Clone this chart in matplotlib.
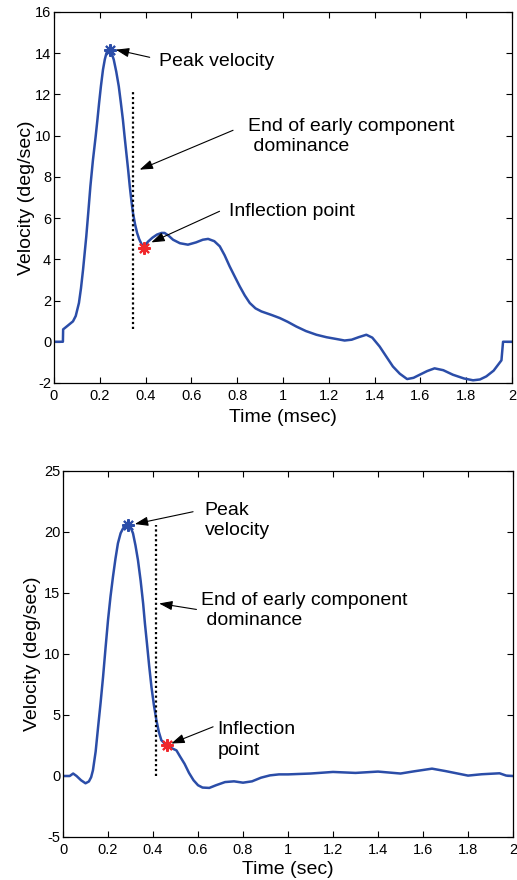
import matplotlib
matplotlib.use("Agg")
import matplotlib.pyplot as plt

plt.rcParams['font.family'] = ['Liberation Sans', 'DejaVu Sans']
plt.rcParams['axes.unicode_minus'] = False

# ---------------- data: top panel ----------------
t_top = [0.0, 0.039, 0.040, 0.06, 0.083, 0.095, 0.109, 0.118, 0.127, 0.134, 0.141, 0.15,
         0.159, 0.17, 0.182, 0.19, 0.197, 0.205, 0.214, 0.222, 0.229, 0.236, 0.243, 0.25,
         0.261, 0.272, 0.283, 0.292, 0.301, 0.308, 0.316, 0.324, 0.331, 0.338, 0.345,
         0.354, 0.363, 0.372, 0.382, 0.392, 0.41, 0.43, 0.45, 0.47, 0.483, 0.50, 0.52,
         0.55, 0.585, 0.62, 0.65, 0.673, 0.70, 0.724, 0.745, 0.767, 0.79, 0.811, 0.833,
         0.855, 0.88, 0.906, 0.95, 0.986, 1.02, 1.058, 1.10, 1.146, 1.19, 1.24, 1.269,
         1.30, 1.33, 1.364, 1.39, 1.422, 1.45, 1.48, 1.51, 1.542, 1.57, 1.597, 1.63,
         1.662, 1.70, 1.742, 1.79, 1.83, 1.86, 1.888, 1.92, 1.954, 1.961, 2.0]
v_top = [0.0, 0.0, 0.6, 0.78, 0.99, 1.25, 1.88, 2.6, 3.5, 4.3, 5.1, 6.3,
         7.54, 8.8, 9.96, 10.8, 11.58, 12.4, 13.2, 13.7, 14.0, 14.13, 14.17, 14.05,
         13.69, 13.1, 12.39, 11.6, 10.77, 10.0, 9.16, 8.33, 7.54, 6.85, 6.25,
         5.7, 5.28, 4.98, 4.75, 4.57, 4.85, 5.05, 5.2, 5.28, 5.28, 5.15, 4.95,
         4.78, 4.71, 4.82, 4.95, 4.99, 4.88, 4.63, 4.2, 3.66, 3.15, 2.69, 2.25,
         1.88, 1.62, 1.47, 1.3, 1.15, 0.97, 0.74, 0.52, 0.34, 0.22, 0.12, 0.06,
         0.1, 0.22, 0.34, 0.2, -0.23, -0.7, -1.2, -1.55, -1.81, -1.75, -1.6, -1.42,
         -1.29, -1.38, -1.6, -1.78, -1.87, -1.83, -1.68, -1.4, -0.9, 0.0, 0.0]
top_peak = (0.243, 14.17)
top_infl = (0.392, 4.57)
top_dom_x = 0.345
top_dom_y = (0.6, 12.1)
top_xticks = [0, 0.2, 0.4, 0.6, 0.8, 1, 1.2, 1.4, 1.6, 1.8, 2]
top_xlabels = ['0', '0.2', '0.4', '0.6', '0.8', '1', '1.2', '1.4', '1.6', '1.8', '2']
top_yticks = [-2, 0, 2, 4, 6, 8, 10, 12, 14, 16]

# ---------------- data: bottom panel ----------------
t_bot = [0.0, 0.03, 0.045, 0.06, 0.08, 0.10, 0.115, 0.125, 0.133, 0.145, 0.156, 0.167,
         0.178, 0.189, 0.20, 0.211, 0.222, 0.233, 0.244, 0.256, 0.267, 0.278, 0.289,
         0.30, 0.311, 0.322, 0.333, 0.345, 0.356, 0.364, 0.373, 0.383, 0.393, 0.404,
         0.415, 0.426, 0.437, 0.46, 0.48, 0.504, 0.52, 0.54, 0.56, 0.58, 0.60, 0.62,
         0.65, 0.68, 0.72, 0.76, 0.80, 0.84, 0.88, 0.92, 0.96, 1.00, 1.10, 1.20, 1.30,
         1.40, 1.50, 1.56, 1.64, 1.70, 1.80, 1.86, 1.94, 1.97, 2.0]
v_bot = [0.0, 0.0, 0.2, 0.0, -0.35, -0.6, -0.45, -0.1, 0.47, 2.0, 4.03, 6.0,
         8.13, 10.5, 12.78, 14.7, 16.33, 17.8, 19.07, 19.9, 20.3, 20.5, 20.57,
         20.4, 19.89, 18.9, 17.7, 16.0, 14.15, 12.5, 10.87, 9.0, 7.3, 5.8,
         4.57, 3.6, 2.93, 2.5, 2.3, 2.1, 1.6, 1.0, 0.25, -0.35, -0.76, -0.95,
         -0.98, -0.76, -0.5, -0.44, -0.55, -0.44, -0.14, 0.05, 0.13, 0.13, 0.2, 0.33, 0.25,
         0.36, 0.2, 0.38, 0.6, 0.4, 0.03, 0.14, 0.22, 0.03, 0.0]
bot_peak = (0.289, 20.57)
bot_infl = (0.46, 2.5)
bot_dom_x = 0.412
bot_dom_y = (0.0, 20.6)
bot_xticks = [0, 0.2, 0.4, 0.6, 0.8, 1, 1.2, 1.4, 1.6, 1.8, 2]
bot_xlabels = ['0', '0.2', '0.4', '0.6', '0.8', '1', '1.2', '1.4', '1.6', '1.8', '2']
bot_yticks = [-5, 0, 5, 10, 15, 20, 25]

BLUE = '#2B4DA8'
RED = '#F0282D'
STAR = (8, 2, 0)

fig = plt.figure(figsize=(5.17, 8.8), dpi=100)
ax1 = fig.add_axes([0.1044, 0.5648, 0.8859, 0.4216])
ax2 = fig.add_axes([0.1219, 0.0489, 0.8704, 0.4159])

arrow = dict(arrowstyle='-|>,head_length=0.8,head_width=0.28', color='black',
             lw=0.8, shrinkA=0, shrinkB=0)
TFS = 14
LS = 1.25


def style(ax, xt, xl, yt):
    ax.set_xlim(0, 2)
    ax.set_xticks(xt)
    ax.set_xticklabels(xl)
    ax.set_yticks(yt)
    ax.set_ylim(yt[0], yt[-1])
    ax.tick_params(direction='in', top=True, right=True, labelsize=10.5, length=4,
                   width=0.8)
    ax.tick_params(axis='y', pad=2)
    ax.tick_params(axis='x', pad=4)
    for s in ax.spines.values():
        s.set_linewidth(0.9)


# ---- top ----
ax1.plot(t_top, v_top, color=BLUE, lw=1.8)
ax1.plot([top_dom_x, top_dom_x], top_dom_y, color='black', lw=1.6, ls=(0, (1, 1.2)))
ax1.plot(*top_peak, marker=STAR, color=BLUE, ms=9, mew=1.5)
ax1.plot(*top_infl, marker=STAR, color=RED, ms=9, mew=1.5)
style(ax1, top_xticks, top_xlabels, top_yticks)
ax1.set_xlabel('Time (msec)', fontsize=TFS, labelpad=4.5)
ax1.set_ylabel('Velocity (deg/sec)', fontsize=TFS, labelpad=0)
ax1.annotate('', xy=(0.27, 14.17), xytext=(0.418, 13.8), arrowprops=arrow)
ax1.text(0.459, 13.6, 'Peak velocity', fontsize=TFS, va='center', ha='left')
ax1.annotate('', xy=(0.374, 8.35), xytext=(0.782, 10.26), arrowprops=arrow)
ax1.text(0.847, 9.94, 'End of early component\n dominance', fontsize=TFS,
         va='center', ha='left', linespacing=LS)
ax1.annotate('', xy=(0.425, 4.82), xytext=(0.723, 6.33), arrowprops=arrow)
ax1.text(0.764, 6.33, 'Inflection point', fontsize=TFS, va='center', ha='left')

# ---- bottom ----
ax2.plot(t_bot, v_bot, color=BLUE, lw=1.8)
ax2.plot([bot_dom_x, bot_dom_x], bot_dom_y, color='black', lw=1.6, ls=(0, (1, 1.2)))
ax2.plot(*bot_peak, marker=STAR, color=BLUE, ms=9, mew=1.5)
ax2.plot(*bot_infl, marker=STAR, color=RED, ms=9, mew=1.5)
style(ax2, bot_xticks, bot_xlabels, bot_yticks)
ax2.set_xlabel('Time (sec)', fontsize=TFS, labelpad=3.5)
ax2.set_ylabel('Velocity (deg/sec)', fontsize=TFS, labelpad=2)
ax2.annotate('', xy=(0.319, 20.65), xytext=(0.578, 21.66), arrowprops=arrow)
ax2.text(0.63, 20.95, 'Peak\nvelocity', fontsize=TFS, va='center', ha='left',
         linespacing=LS)
ax2.annotate('', xy=(0.427, 14.14), xytext=(0.593, 13.65), arrowprops=arrow)
ax2.text(0.615, 13.56, 'End of early component\n dominance', fontsize=TFS,
         va='center', ha='left', linespacing=LS)
ax2.annotate('', xy=(0.481, 2.66), xytext=(0.667, 4.03), arrowprops=arrow)
ax2.text(0.686, 2.95, 'Inflection\npoint', fontsize=TFS, va='center', ha='left',
         linespacing=LS)

fig.savefig('out.png', dpi=100)
